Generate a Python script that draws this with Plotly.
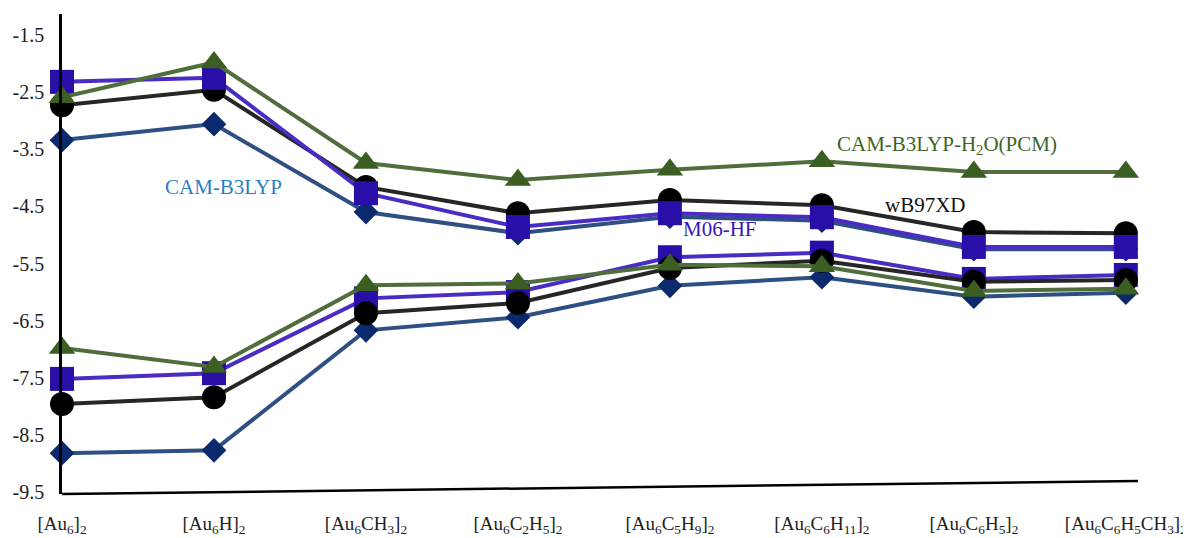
import plotly.graph_objects as go

categories = ["[Au<sub>6</sub>]<sub>2</sub>", "[Au<sub>6</sub>H]<sub>2</sub>", "[Au<sub>6</sub>CH<sub>3</sub>]<sub>2</sub>",
              "[Au<sub>6</sub>C<sub>2</sub>H<sub>5</sub>]<sub>2</sub>", "[Au<sub>6</sub>C<sub>5</sub>H<sub>9</sub>]<sub>2</sub>",
              "[Au<sub>6</sub>C<sub>6</sub>H<sub>11</sub>]<sub>2</sub>", "[Au<sub>6</sub>C<sub>6</sub>H<sub>5</sub>]<sub>2</sub>",
              "[Au<sub>6</sub>C<sub>6</sub>H<sub>5</sub>CH<sub>3</sub>]<sub>2</sub>"]
x_idx = list(range(len(categories)))

y_ticks = [-1.5, -2.5, -3.5, -4.5, -5.5, -6.5, -7.5, -8.5, -9.5]

# upper (LUMO) values
cam_lumo = [-3.34, -3.06, -4.60, -4.97, -4.68, -4.75, -5.25, -5.25]
wb_lumo = [-2.73, -2.46, -4.16, -4.62, -4.39, -4.48, -4.95, -4.97]
m06_lumo = [-2.32, -2.25, -4.27, -4.86, -4.62, -4.69, -5.21, -5.21]
pcm_lumo = [-2.59, -1.98, -3.74, -4.04, -3.86, -3.71, -3.90, -3.90]

# lower (HOMO) values
cam_homo = [-8.82, -8.77, -6.67, -6.44, -5.89, -5.74, -6.08, -6.01]
wb_homo = [-7.96, -7.84, -6.37, -6.19, -5.58, -5.45, -5.82, -5.79]
m06_homo = [-7.52, -7.42, -6.11, -6.00, -5.39, -5.31, -5.77, -5.70]
pcm_homo = [-6.98, -7.31, -5.88, -5.85, -5.52, -5.55, -5.98, -5.94]

styles = {
    "cam": dict(line="#2d4f82", marker="#0b2a6e", symbol="diamond", size=19),
    "wb": dict(line="#262626", marker="#000000", symbol="circle", size=24),
    "m06": dict(line="#4a2cc4", marker="#2a0ea8", symbol="square", size=24),
    "pcm": dict(line="#4f6e3c", marker="#3b5e22", symbol="triangle-up", size=23),
}

fig = go.Figure()

def add(key, ys):
    s = styles[key]
    fig.add_trace(go.Scatter(
        x=x_idx, y=ys, mode="lines+markers", cliponaxis=False,
        line=dict(color=s["line"], width=4),
        marker=dict(color=s["marker"], symbol=s["symbol"], size=s["size"], line=dict(width=0)),
        showlegend=False, hoverinfo="skip"))

add("cam", cam_lumo)
add("wb", wb_lumo)
add("m06", m06_lumo)
add("pcm", pcm_lumo)
add("cam", cam_homo)
add("m06", m06_homo)
add("wb", wb_homo)
add("pcm", pcm_homo)

font_family = "Liberation Serif, Times New Roman, serif"

annots = [
    dict(x=1.06, y=-4.16, text="CAM-B3LYP", color="#2a7fc3"),
    dict(x=4.33, y=-4.90, text="M06-HF", color="#3a18b8"),
    dict(x=5.68, y=-4.48, text="wB97XD", color="#111111"),
    dict(x=5.82, y=-3.43, text="CAM-B3LYP-H<sub>2</sub>O(PCM)", color="#3e6428"),
]
for a in annots:
    fig.add_annotation(x=a["x"], y=a["y"], text=a["text"], showarrow=False,
                       font=dict(family=font_family, size=21, color=a["color"]),
                       xanchor="center", yanchor="middle")

# slightly tilted baseline, as in the original
fig.add_shape(type="line", xref="paper", yref="paper", x0=0, y0=0, x1=1, y1=0.027,
              line=dict(color="#000000", width=2.5))

fig.update_xaxes(range=[0, 7.08], tickvals=x_idx, ticktext=categories, automargin=False,
                 showgrid=False, zeroline=False, showline=False, ticks="",
                 tickfont=dict(family=font_family, size=19, color="#222222"),
                 ticklabelstandoff=16)
fig.update_yaxes(range=[-9.535, -1.132], tickvals=y_ticks, ticktext=[str(v) for v in y_ticks],
                 automargin=False,
                 showgrid=False, zeroline=False, showline=True, linecolor="#000000", linewidth=2.5,
                 ticks="", tickfont=dict(family=font_family, size=20, color="#222222"),
                 ticklabelstandoff=11)

# page body has an 8px margin, so the figure is offset by 8px in both directions
fig.update_layout(width=1183, height=530, plot_bgcolor="white", paper_bgcolor="white",
                  margin=dict(l=54, r=53, t=6, b=44))

fig.write_html("out.html")
